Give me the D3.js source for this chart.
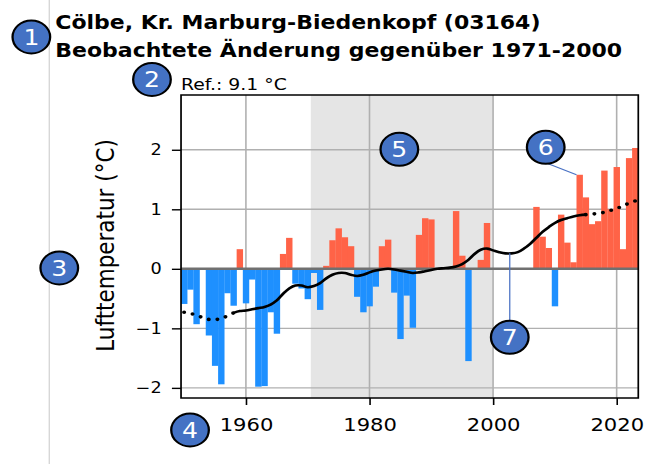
<!DOCTYPE html>
<html>
<head>
<meta charset="utf-8">
<script src="https://cdn.jsdelivr.net/npm/d3@7"></script>
<style>
  body { margin: 0; background: #fff; }
  svg { display: block; }
  text { font-family: "DejaVu Sans", sans-serif; }
</style>
</head>
<body>
<svg id="chart"></svg>
<script>
// Annual mean air temperature anomaly (°C) vs. 1971-2000, station Cölbe
const years = d3.range(1950, 2024);
const anomaly = [
  -0.59, -0.35, -0.93, null, -1.12, -1.63, -1.94, -0.41, -0.62, 0.33,   // 1950-1959
  -0.58, -0.18, -1.98, -1.97, -0.73, -1.09, 0.25, 0.52, -0.25, -0.33,   // 1960-1969
  -0.51, -0.07, -0.69, 0.05, 0.48, 0.68, 0.53, 0.38, -0.47, -0.73,      // 1970-1979
  -0.63, -0.30, 0.38, 0.49, -0.40, -1.18, -0.45, -0.99, 0.57, 0.85,     // 1980-1989
  0.83, null, null, null, 0.97, 0.22, -1.55, null, 0.15, 0.77,          // 1990-1999
  null, null, null, null, null, null, null, 1.04, 0.54, 0.35,           // 2000-2009
  -0.63, 0.91, 0.44, 0.11, 1.58, 1.20, 0.75, 0.80, 1.65, 1.00,          // 2010-2019
  1.71, 0.33, 1.86, 2.03                                                // 2020-2023
];
// Smoothed trend of the anomaly series
const trend = [
  -0.73, -0.75, -0.78, -0.82, -0.85, -0.85, -0.84, -0.79, -0.74, -0.71, // 1950-1959
  -0.70, -0.68, -0.66, -0.64, -0.60, -0.53, -0.42, -0.33, -0.28, -0.28, // 1960-1969
  -0.31, -0.29, -0.24, -0.16, -0.10, -0.07, -0.07, -0.10, -0.12, -0.10, // 1970-1979
  -0.06, -0.03, -0.01, 0.00, -0.01, -0.03, -0.05, -0.07, -0.06, -0.04,  // 1980-1989
  -0.02, 0.00, 0.01, 0.02, 0.04, 0.08, 0.15, 0.25, 0.32, 0.34,          // 1990-1999
  0.31, 0.28, 0.26, 0.26, 0.28, 0.34, 0.42, 0.52, 0.62, 0.70,           // 2000-2009
  0.77, 0.82, 0.85, 0.88, 0.90, 0.91, 0.92, 0.93, 0.95, 0.98,           // 2010-2019
  1.01, 1.06, 1.10, 1.14                                                // 2020-2023
];
const refPeriod = [1970.5, 2000];
const trendSolid = [1958, 2015];
const xTicks = [1960, 1980, 2000, 2020];
const yTicks = [-2, -1, 0, 1, 2];

const titleLines = ["Cölbe, Kr. Marburg-Biedenkopf (03164)", "Beobachtete Änderung gegenüber 1971-2000"];
const refLabel = "Ref.: 9.1 °C";
const yLabel = "Lufttemperatur (°C)";

// Drawing is done in a slightly narrower coordinate space, widened to the window
const W = 645, H = 464, SX = 1.14, VW = W / SX;
const svg = d3.select("#chart")
  .attr("width", W).attr("height", H)
  .attr("viewBox", `0 0 ${VW} ${H}`)
  .attr("preserveAspectRatio", "none");

const plot = { left: 158.8, right: 559.9, top: 95, bottom: 398 };
const x = d3.scaleLinear().domain([1949.5, 2023.5]).range([plot.left, plot.right]);
const y = d3.scaleLinear().domain([-2.17, 2.92]).range([plot.bottom, plot.top]);
const bw = x(1) - x(0);

const data = years.map((yr, i) => ({ year: yr, v: anomaly[i], t: trend[i] }));

// thin separator rule at the far left
svg.append("line")
  .attr("x1", 43.2).attr("x2", 43.2).attr("y1", 0).attr("y2", H)
  .attr("stroke", "#cfcfcf").attr("stroke-width", 1);

// titles
svg.selectAll("text.title").data(titleLines).join("text")
  .attr("class", "title")
  .attr("x", 48.5).attr("y", (d, i) => 29 + i * 28)
  .attr("font-size", 19.3).attr("font-weight", "bold").attr("fill", "#000")
  .text(d => d);

svg.append("text")
  .attr("x", plot.left).attr("y", 90)
  .attr("font-size", 16.5).attr("fill", "#000")
  .text(refLabel);

// reference period shading
svg.append("rect")
  .attr("x", x(refPeriod[0])).attr("y", plot.top)
  .attr("width", x(refPeriod[1]) - x(refPeriod[0]))
  .attr("height", plot.bottom - plot.top)
  .attr("fill", "#e5e5e5");

// grid
const grid = svg.append("g").attr("stroke", "#b0b0b0").attr("stroke-width", 1.4);
grid.selectAll("line.gx").data(xTicks).join("line")
  .attr("x1", d => x(d)).attr("x2", d => x(d))
  .attr("y1", plot.top).attr("y2", plot.bottom);
grid.selectAll("line.gy").data(yTicks.filter(d => d !== 0)).join("line")
  .attr("x1", plot.left).attr("x2", plot.right)
  .attr("y1", d => y(d)).attr("y2", d => y(d));

// anomaly bars
svg.append("g").selectAll("rect").data(data.filter(d => d.v !== null)).join("rect")
  .attr("x", d => x(d.year - 0.5))
  .attr("width", bw + 0.2)
  .attr("y", d => y(Math.max(0, d.v)))
  .attr("height", d => Math.abs(y(d.v) - y(0)))
  .attr("fill", d => d.v >= 0 ? "#ff6347" : "#1e90ff");

// zero line
svg.append("line")
  .attr("x1", plot.left).attr("x2", plot.right)
  .attr("y1", y(0)).attr("y2", y(0))
  .attr("stroke", "#707070").attr("stroke-width", 2.4);

// trend curve: solid in the core, dotted at both ends
const line = d3.line().x(d => x(d.year)).y(d => y(d.t)).curve(d3.curveCatmullRom);
const solid = data.filter(d => d.year >= trendSolid[0] && d.year <= trendSolid[1]);
const headDots = data.filter(d => d.year <= trendSolid[0]);
const tailDots = data.filter(d => d.year >= trendSolid[1]);
svg.append("path").datum(solid).attr("d", line)
  .attr("fill", "none").attr("stroke", "#000").attr("stroke-width", 2.6);
[headDots, tailDots].forEach(seg => {
  svg.append("path").datum(seg).attr("d", line)
    .attr("fill", "none").attr("stroke", "#000").attr("stroke-width", 3.6)
    .attr("stroke-linecap", "round").attr("stroke-dasharray", "0 7.6");
});

// frame
svg.append("rect")
  .attr("x", plot.left).attr("y", plot.top)
  .attr("width", plot.right - plot.left).attr("height", plot.bottom - plot.top)
  .attr("fill", "none").attr("stroke", "#000").attr("stroke-width", 1.5);

// axes
const xAxis = svg.append("g").attr("transform", `translate(0,${plot.bottom})`)
  .call(d3.axisBottom(x).tickValues(xTicks).tickFormat(d3.format("d")).tickSize(7).tickPadding(13));
const yAxis = svg.append("g").attr("transform", `translate(${plot.left},0)`)
  .call(d3.axisLeft(y).tickValues(yTicks).tickFormat(d3.format("d")).tickSize(8).tickPadding(9));
[xAxis, yAxis].forEach(g => {
  g.select(".domain").remove();
  g.selectAll(".tick line").attr("stroke", "#000").attr("stroke-width", 1.4);
  g.selectAll(".tick text").attr("fill", "#000").attr("font-family", "DejaVu Sans, sans-serif");
});
xAxis.selectAll(".tick text").attr("font-size", 18.5);
yAxis.selectAll(".tick text").attr("font-size", 15.5);

svg.append("text")
  .attr("transform", `translate(100,${(plot.top + plot.bottom) / 2 - 1}) rotate(-90)`)
  .attr("text-anchor", "middle").attr("font-size", 21.5).attr("fill", "#000")
  .text(yLabel);

// numbered callouts
const callouts = [
  { n: 1, cx: 27.5, cy: 37 },
  { n: 2, cx: 133.3, cy: 79.5 },
  { n: 3, cx: 52, cy: 268 },
  { n: 4, cx: 166.7, cy: 430 },
  { n: 5, cx: 350.3, cy: 149.3 },
  { n: 6, cx: 478.7, cy: 147.3 },
  { n: 7, cx: x(2002.7), cy: 337.3 }
];
const r = 16.5;
// leader lines for 6 (to the 2014 bar) and 7 (to the trend curve)
const bar2014 = data.find(d => d.year === 2014);
svg.append("line")
  .attr("x1", callouts[5].cx).attr("y1", callouts[5].cy + r - 1)
  .attr("x2", x(2014) - bw / 2).attr("y2", y(bar2014.v))
  .attr("stroke", "#4a72c4").attr("stroke-width", 1.1);
svg.append("line")
  .attr("x1", x(2002.7)).attr("x2", x(2002.7))
  .attr("y1", y(0.26)).attr("y2", callouts[6].cy - r)
  .attr("stroke", "#4a72c4").attr("stroke-width", 1.1);

const cg = svg.append("g").selectAll("g").data(callouts).join("g")
  .attr("transform", d => `translate(${d.cx},${d.cy})`);
cg.append("circle").attr("r", r)
  .attr("fill", "#4472c4").attr("stroke", "#000").attr("stroke-width", 2);
cg.append("text")
  .attr("text-anchor", "middle").attr("dy", "0.36em")
  .attr("font-family", "Lato, 'Open Sans', sans-serif")
  .attr("font-size", 22).attr("fill", "#fff")
  .text(d => d.n);
</script>
</body>
</html>
